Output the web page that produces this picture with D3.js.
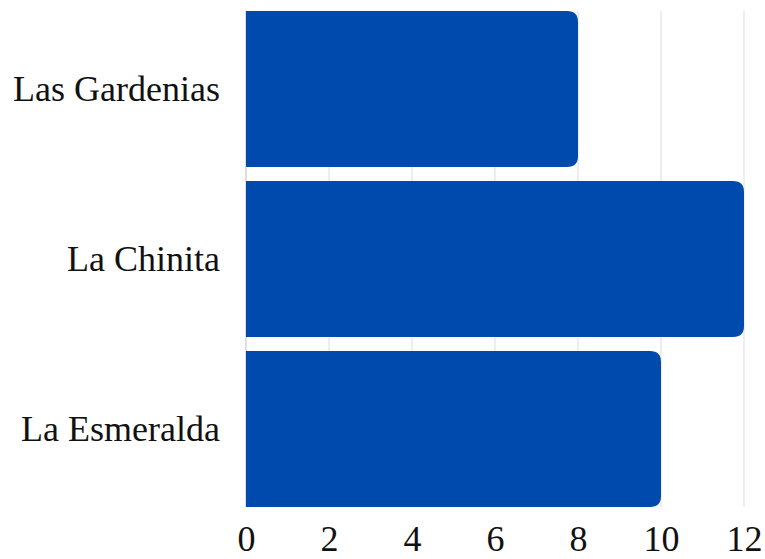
<!DOCTYPE html>
<html>
<head>
<meta charset="utf-8">
<script src="https://cdn.jsdelivr.net/npm/d3@7"></script>
<style>
  html, body { margin: 0; padding: 0; background: #fff; }
  svg { display: block; }
</style>
</head>
<body>
<script>
// Counts per location
const categories = ["Las Gardenias", "La Chinita", "La Esmeralda"];
const values = [8, 12, 10];
const tickValues = [0, 2, 4, 6, 8, 10, 12];

const W = 765, H = 559;
const FONT = "'Liberation Serif', 'Times New Roman', Times, serif";
const svg = d3.select("body").append("svg").attr("width", W).attr("height", H);

const x = d3.scaleLinear().domain([0, 12]).range([246, 744]);
const y = d3.scaleBand().domain(categories).range([4, 514])
  .paddingInner(0.0824).paddingOuter(0.0412);

const gridTop = y(categories[0]);
const gridBottom = y(categories[categories.length - 1]) + y.bandwidth();

// vertical gridlines
svg.append("g").selectAll("line").data(tickValues).join("line")
  .attr("x1", d => x(d)).attr("x2", d => x(d))
  .attr("y1", gridTop).attr("y2", gridBottom)
  .attr("stroke", d => d === 0 ? "#c8c8c8" : "#e2e2e2")
  .attr("stroke-width", 1.2);

// bars with rounded right end
const r = 11;
function barPath(v, cat) {
  const x0 = x(0), x1 = x(v), y0 = y(cat), y1 = y0 + y.bandwidth();
  return `M${x0},${y0}H${x1 - r}Q${x1},${y0} ${x1},${y0 + r}V${y1 - r}Q${x1},${y1} ${x1 - r},${y1}H${x0}Z`;
}
svg.append("g").selectAll("path").data(categories).join("path")
  .attr("d", (c, i) => barPath(values[i], c))
  .attr("fill", "#004aad");

// x axis tick labels
const xAxis = d3.axisBottom(x).tickValues(tickValues).tickSize(0).tickPadding(0);
const gx = svg.append("g").attr("transform", `translate(0,${gridBottom + 18})`).call(xAxis)
  .attr("font-family", FONT).attr("font-size", 36);
gx.select(".domain").remove();
gx.selectAll("text").attr("dy", "0.71em").attr("fill", "#111")
  .style("font-family", FONT).style("font-size", "36px");

// y axis category labels
const yAxis = d3.axisLeft(y).tickSize(0).tickPadding(0);
const gy = svg.append("g").attr("transform", `translate(${x(0) - 26},0)`).call(yAxis)
  .attr("font-family", FONT).attr("font-size", 36);
gy.select(".domain").remove();
gy.selectAll("text").attr("fill", "#111")
  .style("font-family", FONT).style("font-size", "36px");
</script>
</body>
</html>
